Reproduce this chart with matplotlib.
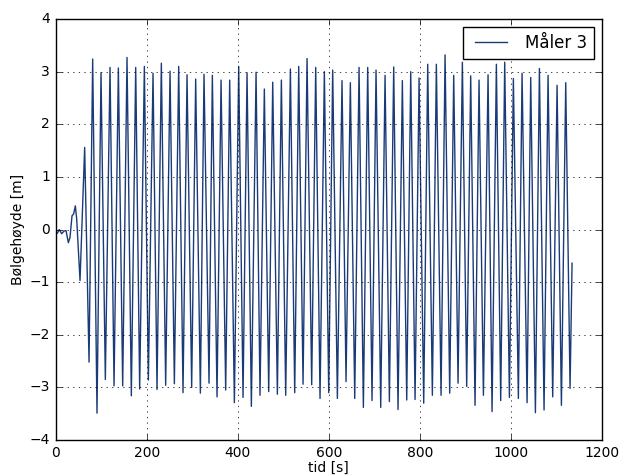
import matplotlib
matplotlib.use('Agg')
import matplotlib.pyplot as plt

# wave gauge 3: start-up noise, then crests/troughs
tid = [0, 3.8, 8.2, 13.3, 18.4, 22.8, 28.0, 31.6, 36.0, 39.7, 43.3, 46.3,
       53.6, 63.8, 73.4, 81.4, 90.9, 99.7, 109.2, 119.5, 128.3, 137.8, 147.3,
       156.8, 166.3, 175.9, 184.6, 194.9, 203.7, 213.9, 222.7, 232.2, 241.7,
       251.3, 260.8, 270.3, 279.8,
       288.6, 298.8, 307.6, 317.9, 325.9, 336.9, 344.2, 354.5, 363.3, 373.5,
       382.3, 392.6, 402.1, 411.6, 420.4, 429.9, 440.2, 448.9, 458.4, 468.0,
       476.8, 487.0, 495.8, 505.3, 515.6, 525.1, 533.9, 543.4, 552.2, 562.4,
       571.2, 580.7, 590.2, 599.8,
       608.5, 618.8, 629.0, 637.8, 647.3, 656.9, 666.4, 675.9, 685.4, 694.9,
       703.7, 714.0, 723.5, 733.0, 742.5, 752.0, 761.5, 771.1, 779.9, 789.4,
       798.2, 808.4, 817.2, 827.4, 836.2, 846.5, 855.3, 865.5, 874.3, 883.8,
       893.3, 902.8,
       911.6, 921.1, 929.9, 939.5, 949.7, 958.5, 968.0, 977.5, 986.3, 996.6,
       1005.3, 1016.3, 1024.4, 1035.4, 1043.4, 1053.7, 1062.5, 1072.7, 1081.5,
       1091.7, 1101.3, 1110.8, 1120.3, 1129.8, 1134.2]
hoyde = [-0.05, -0.07, 0.0, -0.08, -0.03, -0.02, -0.25, -0.15, 0.26, 0.3, 0.45, 0.2,
         -0.97, 1.56, -2.52, 3.24, -3.49, 2.98, -2.85, 3.08, -2.97, 3.07, -2.97,
         3.27, -3.16, 3.08, -3.03, 3.1, -2.86, 2.97, -3.04, 3.16, -2.96,
         3.01, -2.93, 3.1, -3.1,
         2.94, -3.0, 2.86, -3.11, 2.95, -2.92, 2.93, -3.18, 2.84, -3.05,
         2.84, -3.29, 3.1, -3.19, 2.98, -3.36, 2.99, -3.15, 2.67, -3.08,
         2.8, -3.13, 2.84, -3.15, 3.05, -3.1, 3.1, -2.94, 3.25, -2.95,
         3.08, -3.21, 3.0, -3.1,
         3.03, -3.21, 2.83, -2.89, 2.79, -3.21, 3.08, -3.38, 3.08, -3.25,
         3.03, -3.38, 2.93, -3.27, 3.09, -3.42, 2.83, -3.24, 3.0, -3.23,
         2.88, -3.3, 3.14, -3.15, 3.14, -3.15, 3.32, -3.11, 2.93, -2.92,
         3.18, -2.98,
         2.92, -3.34, 2.84, -3.15, 2.94, -3.46, 3.14, -3.25, 3.18, -3.19,
         2.87, -3.21, 2.97, -3.29, 2.89, -3.48, 3.06, -3.43, 2.93,
         -3.18, 2.74, -3.34, 2.79, -3.02, -0.64]

plt.style.use('classic')
plt.rcParams['figure.facecolor'] = 'white'

fig, ax = plt.subplots(figsize=(6.2, 4.76), dpi=100)
fig.subplots_adjust(left=0.0897, right=0.971, top=0.960, bottom=0.0756)

ax.plot(tid, hoyde, color='#1b3b78', linewidth=1.0, label='Måler 3')

ax.set_xlim(0, 1200)
ax.set_ylim(-4, 4)
ax.set_xlabel('tid [s]', fontsize=10, labelpad=1)
ax.set_ylabel('Bølgehøyde [m]', fontsize=10, labelpad=3)
ax.tick_params(labelsize=10)
ax.grid(True)
ax.legend(loc='upper right', fontsize=12, handlelength=2.5)

fig.savefig('out.png', dpi=100)
